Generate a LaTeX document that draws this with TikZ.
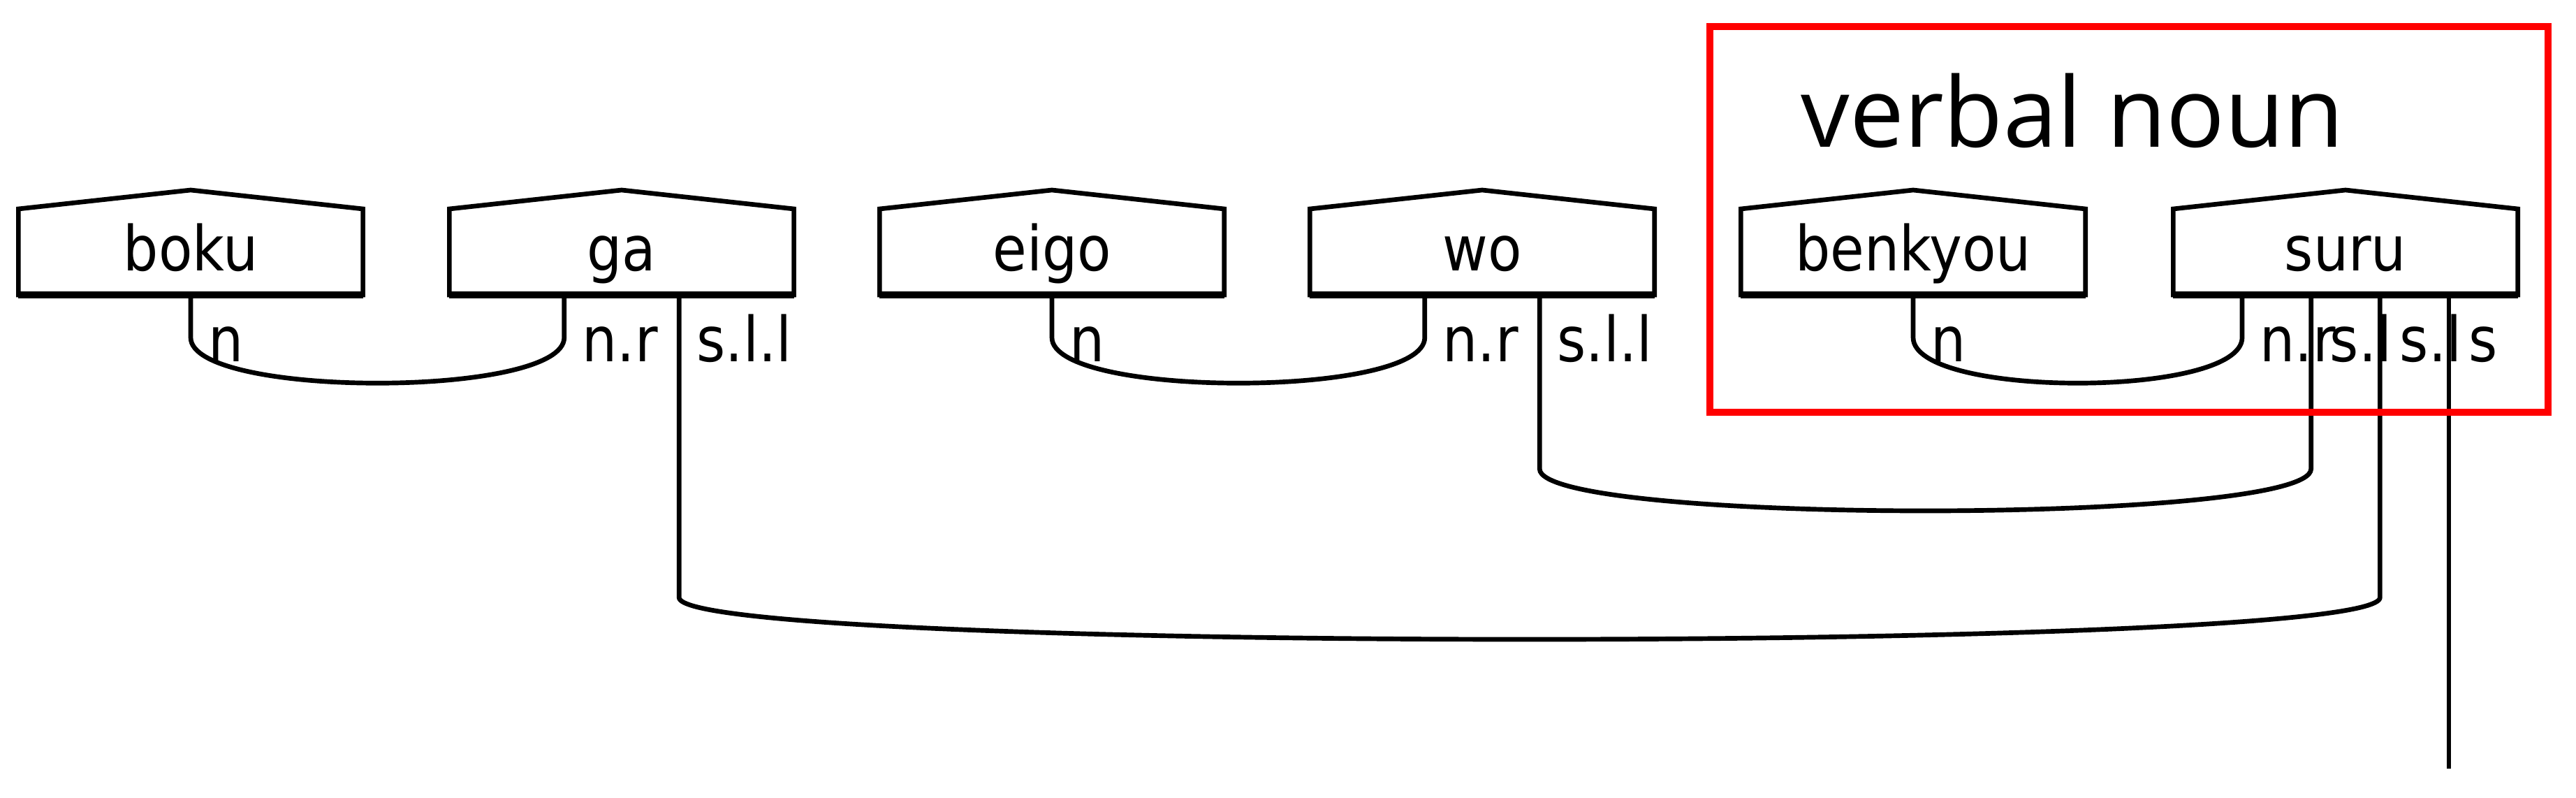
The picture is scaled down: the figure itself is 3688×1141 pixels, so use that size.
\documentclass[tikz,border=0pt]{standalone}
\usepackage{fontspec}
\setmainfont{DejaVu Sans}[FakeStretch=0.89]
\newfontfamily\vnfont{Open Sans}
\usetikzlibrary{calc}
\tikzset{
  wire/.style={line width=1.9pt, black},
  boxline/.style={line width=1.9pt, black, line join=miter},
  wordbox/.style={minimum width=4.93cm, minimum height=1.23cm,
    inner sep=0pt, outer sep=0pt, text height=0.8cm, text depth=0.27cm,
    font=\fontsize{25.3pt}{30pt}\selectfont},
  wirelabel/.style={anchor=base west, inner sep=0pt, font=\fontsize{25.3pt}{30pt}\selectfont},
}
% #1 left port, #2 right port, #3 end of vertical part, #4 control depth
\newcommand\cupwire[4]{%
  \draw[wire] (#1) -- (#1 |- 0,#3)
     .. controls (#1 |- 0,#4) and (#2 |- 0,#4) .. (#2 |- 0,#3) -- (#2);
}
\begin{document}
\begin{tikzpicture}[x=0.01cm, y=-0.01cm]
\useasboundingbox[fill=white] (0,0) rectangle (3688,1141);

\foreach \name/\cx in {boku/273, ga/890, eigo/1506, wo/2122, benkyou/2739, suru/3358} {
  \node[wordbox] (\name) at (\cx,360.5) {\name};
  \draw[boxline] (\name.south west) -- (\name.north west) -- ($(\name.north)+(0,-27)$)
     -- (\name.north east) -- (\name.south east) -- cycle;
  \draw[line width=2.6pt] (\name.south west) -- (\name.south east);
}

% ports
\coordinate (boku-n) at (boku.south);
\coordinate (ga-nr) at ($(ga.south west)!1/3!(ga.south east)$);
\coordinate (ga-sll) at ($(ga.south west)!2/3!(ga.south east)$);
\coordinate (eigo-n) at (eigo.south);
\coordinate (wo-nr) at ($(wo.south west)!1/3!(wo.south east)$);
\coordinate (wo-sll) at ($(wo.south west)!2/3!(wo.south east)$);
\coordinate (benkyou-n) at (benkyou.south);
\coordinate (suru-1) at ($(suru.south west)!0.2!(suru.south east)$);
\coordinate (suru-2) at ($(suru.south west)!0.4!(suru.south east)$);
\coordinate (suru-3) at ($(suru.south west)!0.6!(suru.south east)$);
\coordinate (suru-4) at ($(suru.south west)!0.8!(suru.south east)$);

% wires (control depth = vertical end + 4/3 of the drop to the bottom)
\cupwire{boku-n}{ga-nr}{483}{570}
\cupwire{eigo-n}{wo-nr}{483}{570}
\cupwire{benkyou-n}{suru-1}{483}{570}
\cupwire{wo-sll}{suru-2}{671}{751}
\cupwire{ga-sll}{suru-3}{855}{935}
\coordinate (out) at (suru-4 |- 0,1100);
\draw[wire] (suru-4) -- (out);

% wire labels
\node[wirelabel] (l1) at (298,517) {n};
\node[wirelabel] (l2) at (833,517) {n.r};
\node[wirelabel] (l3) at (997,517) {s.l.l};
\node[wirelabel] (l4) at (1531,517) {n};
\node[wirelabel] (l5) at (2065,517) {n.r};
\node[wirelabel] (l6) at (2229,517) {s.l.l};
\node[wirelabel] (l7) at (2764,517) {n};
\node[wirelabel] (l8) at (3235,517) {n.r};
\node[wirelabel] (l9) at (3335,517) {s.l};
\node[wirelabel] (l10) at (3435,517) {s.l};
\node[wirelabel] (l11) at (3534,517) {s};

% verbal noun group
\node[anchor=base west, inner sep=0pt, font=\vnfont\fontsize{39.5pt}{47pt}\selectfont] (vnlabel) at (2578,210) {verbal noun};
\node[draw=red, line width=2.85pt, minimum width=12cm, minimum height=5.52cm, inner sep=0pt] (vnbox) at (3048,314) {};
\end{tikzpicture}
\end{document}
